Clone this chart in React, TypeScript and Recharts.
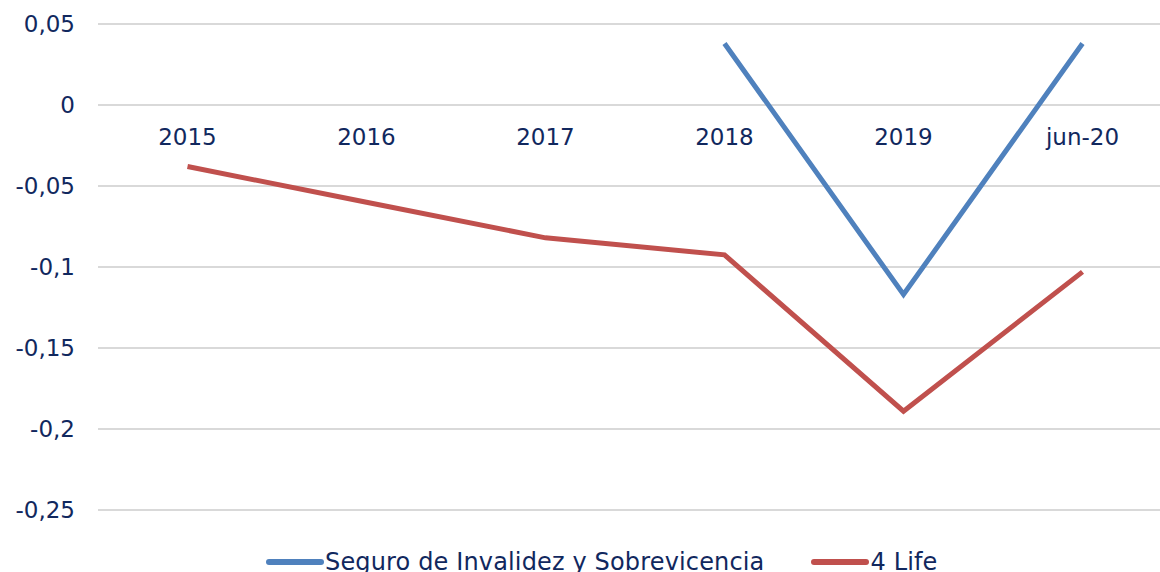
import React from 'react';
import { LineChart, Line, XAxis, YAxis, CartesianGrid, Legend } from 'recharts';

const categories = ['2015', '2016', '2017', '2018', '2019', 'jun-20'];
const seguroValues: (number | null)[] = [null, null, null, 0.038, -0.117, 0.038];
const lifeValues: number[] = [-0.038, -0.06, -0.082, -0.0925, -0.189, -0.103];
const yTicks = [0.05, 0, -0.05, -0.1, -0.15, -0.2, -0.25];

const seriesNames = ['Seguro de Invalidez y Sobrevicencia', '4 Life'];
const seriesColors = ['#4F81BD', '#C0504D'];

const data = categories.map((c, i) => ({
  cat: c,
  seguro: seguroValues[i],
  life: lifeValues[i],
}));

const TEXT = '#11285E';
const FONT = '"DejaVu Sans", Verdana, sans-serif';

const fmt = (v: number) => String(v).replace('.', ',');

const XTick = (props: any) => {
  const { x, y, payload } = props;
  return (
    <text x={x} y={y} dy={-373} textAnchor="middle" fill={TEXT} fontSize={23} fontFamily={FONT}>
      {payload.value}
    </text>
  );
};

const LegendContent = () => {
  return (
    <div style={{ display: 'flex', justifyContent: 'flex-start', alignItems: 'center', fontFamily: FONT, fontSize: 24, letterSpacing: 0.15, color: TEXT, paddingLeft: 265 }}>
      {seriesNames.map((name, i) => (
        <div key={i} style={{ display: 'flex', alignItems: 'center', marginRight: i === 0 ? 46 : 0 }}>
          <svg width={60} height={10} style={{ display: 'block' }}>
            <line x1={4} y1={5} x2={56} y2={5} stroke={seriesColors[i]} strokeWidth={6} strokeLinecap="round" />
          </svg>
          <span>{name}</span>
        </div>
      ))}
    </div>
  );
};

export default function App() {
  return (
    <div style={{ position: 'absolute', left: 0, top: 0, width: 1160, height: 572, overflow: 'hidden', background: '#fff' }}>
      <LineChart width={1180} height={620} data={data} margin={{ top: 24, right: 8, bottom: 0, left: 0 }}>
        <CartesianGrid vertical={false} stroke="#D9D9D9" strokeWidth={2} />
        <XAxis
          dataKey="cat"
          height={30}
          axisLine={false}
          tickLine={false}
          tick={<XTick />}
          interval={0}
          padding={{ left: 89.5, right: 89.5 }}
        />
        <YAxis
          domain={[-0.25, 0.05]}
          ticks={yTicks}
          width={98}
          axisLine={false}
          tickLine={false}
          tickMargin={17}
          tickFormatter={fmt}
          tick={{ fill: TEXT, fontSize: 23, fontFamily: FONT }}
          interval={0}
        />
        <Legend verticalAlign="bottom" height={80} content={<LegendContent />} wrapperStyle={{ top: 548 }} />
        <Line type="linear" dataKey="seguro" name={seriesNames[0]} stroke={seriesColors[0]} strokeWidth={5} dot={false} isAnimationActive={false} connectNulls={false} />
        <Line type="linear" dataKey="life" name={seriesNames[1]} stroke={seriesColors[1]} strokeWidth={5} dot={false} isAnimationActive={false} />
      </LineChart>
    </div>
  );
}
